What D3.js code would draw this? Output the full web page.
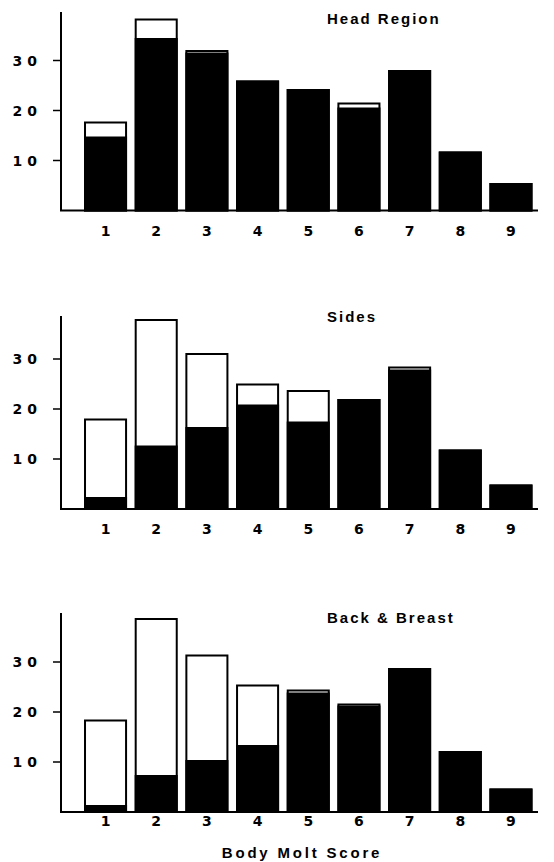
<!DOCTYPE html>
<meta charset="utf-8">
<head>
  <style>
    body { margin: 0; background: #fff; }
    .num { font-family: "DejaVu Sans", sans-serif; font-weight: bold; font-size: 14px; fill: #000; }
    .word { font-family: "Liberation Sans", sans-serif; font-weight: bold; font-size: 15px; fill: #000; }
  </style>
</head>
<body>
  <script src="https://d3js.org/d3.v7.min.js"></script>
  <script>
    // molt scores on the x axis
    var scores = ["1", "2", "3", "4", "5", "6", "7", "8", "9"];
    var yTicks = [10, 20, 30];

    // black part of each bar (lower) and full bar height
    var headBlack  = [14.6, 34.3, 31.4, 25.8, 24.1, 20.4, 27.9, 11.6, 5.3];
    var headTotal  = [17.6, 38.2, 31.9, 25.8, 24.1, 21.4, 27.9, 11.6, 5.3];
    var sidesBlack = [2.2, 12.5, 16.2, 20.7, 17.3, 21.8, 27.7, 11.7, 4.7];
    var sidesTotal = [17.9, 37.8, 31.0, 24.9, 23.6, 21.8, 28.3, 11.7, 4.7];
    var backBlack  = [1.2, 7.2, 10.2, 13.2, 23.7, 21.1, 28.6, 12.0, 4.5];
    var backTotal  = [18.3, 38.6, 31.3, 25.3, 24.3, 21.5, 28.6, 12.0, 4.5];

    var panels = [
      { title: "Head Region", black: headBlack, total: headTotal, top: 10.5, axisTop: 39.7, labelDy: 25, titleY: 13 },
      { title: "Sides", black: sidesBlack, total: sidesTotal, top: 309, axisTop: 38.6, labelDy: 25, titleY: 13 },
      { title: "Back & Breast", black: backBlack, total: backTotal, top: 612, axisTop: 39.8, labelDy: 14, titleY: 11 }
    ];

    var width = 554, height = 862;
    var innerH = 200;

    var svg = d3.select("body").append("svg")
      .attr("width", width)
      .attr("height", height);

    var x = d3.scaleBand()
      .domain(scores)
      .range([80.2, 536.3])
      .paddingInner(0.19)
      .paddingOuter(0.095);

    panels.forEach(function (p) {
      var y = d3.scaleLinear().domain([0, 40]).range([innerH, 0]);
      var g = svg.append("g").attr("transform", "translate(0," + p.top + ")");

      // bars: outlined white total, black lower part
      var bars = g.selectAll(".bar")
        .data(scores.map(function (s, i) { return { s: s, black: p.black[i], total: p.total[i] }; }))
        .enter().append("g");

      bars.append("rect")
        .attr("x", function (d) { return x(d.s); })
        .attr("width", x.bandwidth())
        .attr("y", function (d) { return y(d.total); })
        .attr("height", function (d) { return y(0) - y(d.total); })
        .attr("fill", "#fff")
        .attr("stroke", "#000")
        .attr("stroke-width", 2);

      bars.append("rect")
        .attr("x", function (d) { return x(d.s); })
        .attr("width", x.bandwidth())
        .attr("y", function (d) { return y(d.black); })
        .attr("height", function (d) { return y(0) - y(d.black); })
        .attr("fill", "#000")
        .attr("stroke", "#000")
        .attr("stroke-width", 2);

      // y axis
      g.append("line")
        .attr("x1", 61).attr("x2", 61)
        .attr("y1", y(0)).attr("y2", y(p.axisTop))
        .attr("stroke", "#000").attr("stroke-width", 2);

      g.selectAll(".ytick")
        .data(yTicks)
        .enter().append("line")
        .attr("x1", 53).attr("x2", 61)
        .attr("y1", function (d) { return y(d); })
        .attr("y2", function (d) { return y(d); })
        .attr("stroke", "#000").attr("stroke-width", 1.5);

      g.selectAll(".ylab")
        .data(yTicks)
        .enter().append("text")
        .attr("class", "num")
        .attr("x", 42)
        .attr("y", function (d) { return y(d); })
        .attr("dy", "0.36em")
        .attr("text-anchor", "end")
        .style("letter-spacing", "5px")
        .text(function (d) { return d; });

      // x axis
      g.append("line")
        .attr("x1", 60).attr("x2", 538)
        .attr("y1", y(0)).attr("y2", y(0))
        .attr("stroke", "#000").attr("stroke-width", 2);

      g.selectAll(".xlab")
        .data(scores)
        .enter().append("text")
        .attr("class", "num")
        .attr("x", function (d) { return x(d) + x.bandwidth() / 2; })
        .attr("y", y(0) + p.labelDy)
        .attr("text-anchor", "middle")
        .text(function (d) { return d; });

      g.append("text")
        .attr("class", "word")
        .attr("x", 327)
        .attr("y", p.titleY)
        .style("letter-spacing", "2px")
        .text(p.title);
    });

    svg.append("text")
      .attr("class", "word")
      .attr("x", 302)
      .attr("y", 857.5)
      .attr("text-anchor", "middle")
      .style("letter-spacing", "2.8px")
      .text("Body Molt Score");
  </script>
</body>
